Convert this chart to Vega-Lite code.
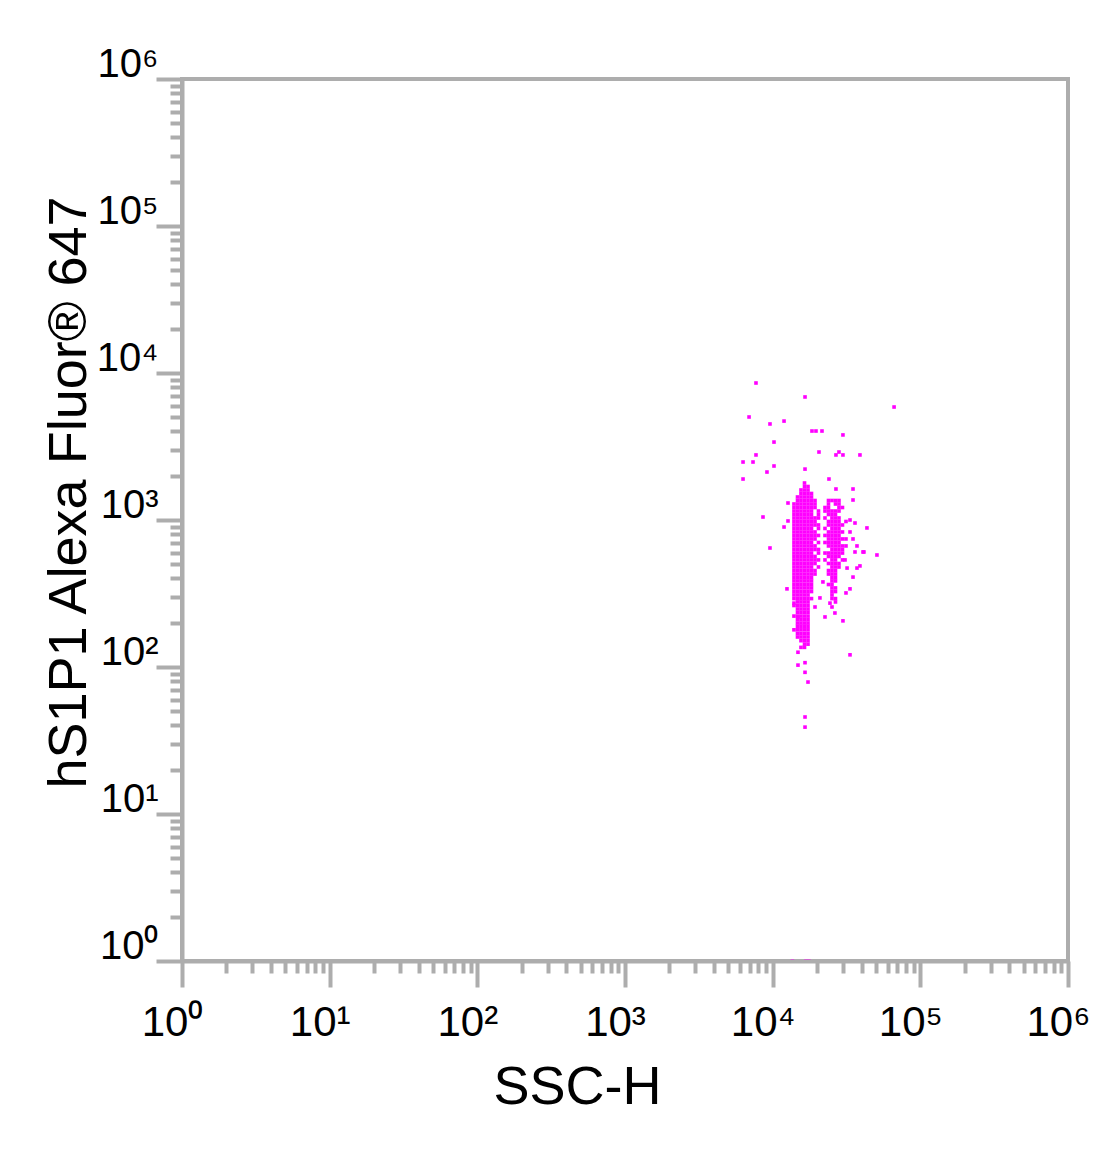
{
"$schema": "https://vega.github.io/schema/vega-lite/v6.json",
"width": 886,
"height": 882,
"autosize": {"type": "none"},
"padding": {"left": 182, "top": 79, "right": 32, "bottom": 205},
"background": "white",
"config": {"view": {"stroke": "#adadad", "strokeWidth": 4}},
"data": {"values": [
{"ssc":16430,"fl":1785},
{"ssc":16430,"fl":1690},{"ssc":17350,"fl":1690},
{"ssc":15550,"fl":1600},{"ssc":16430,"fl":1600},{"ssc":17350,"fl":1600},
{"ssc":15550,"fl":1515},{"ssc":16430,"fl":1515},{"ssc":17350,"fl":1515},{"ssc":18320,"fl":1515},
{"ssc":14730,"fl":1434},{"ssc":15550,"fl":1434},{"ssc":16430,"fl":1434},{"ssc":17350,"fl":1434},{"ssc":18320,"fl":1434},
{"ssc":14730,"fl":1357},{"ssc":15550,"fl":1357},{"ssc":16430,"fl":1357},{"ssc":17350,"fl":1357},{"ssc":18320,"fl":1357},{"ssc":19350,"fl":1357},
{"ssc":13940,"fl":1285},{"ssc":14730,"fl":1285},{"ssc":15550,"fl":1285},{"ssc":16430,"fl":1285},{"ssc":17350,"fl":1285},{"ssc":18320,"fl":1285},{"ssc":19350,"fl":1285},
{"ssc":13940,"fl":1216},{"ssc":14730,"fl":1216},{"ssc":15550,"fl":1216},{"ssc":16430,"fl":1216},{"ssc":17350,"fl":1216},{"ssc":18320,"fl":1216},{"ssc":19350,"fl":1216},
{"ssc":13940,"fl":1151},{"ssc":14730,"fl":1151},{"ssc":15550,"fl":1151},{"ssc":16430,"fl":1151},{"ssc":17350,"fl":1151},{"ssc":18320,"fl":1151},{"ssc":20430,"fl":1151},
{"ssc":13940,"fl":1090},{"ssc":14730,"fl":1090},{"ssc":15550,"fl":1090},{"ssc":16430,"fl":1090},{"ssc":17350,"fl":1090},{"ssc":18320,"fl":1090},{"ssc":20430,"fl":1090},
{"ssc":13940,"fl":1032},{"ssc":14730,"fl":1032},{"ssc":15550,"fl":1032},{"ssc":16430,"fl":1032},{"ssc":17350,"fl":1032},{"ssc":18320,"fl":1032},{"ssc":19350,"fl":1032},{"ssc":20430,"fl":1032},
{"ssc":13940,"fl":977},{"ssc":14730,"fl":977},{"ssc":15550,"fl":977},{"ssc":16430,"fl":977},{"ssc":17350,"fl":977},{"ssc":18320,"fl":977},{"ssc":19350,"fl":977},
{"ssc":13940,"fl":925},{"ssc":14730,"fl":925},{"ssc":15550,"fl":925},{"ssc":16430,"fl":925},{"ssc":17350,"fl":925},{"ssc":18320,"fl":925},{"ssc":19350,"fl":925},{"ssc":20430,"fl":925},
{"ssc":13940,"fl":876},{"ssc":14730,"fl":876},{"ssc":15550,"fl":876},{"ssc":16430,"fl":876},{"ssc":17350,"fl":876},{"ssc":18320,"fl":876},{"ssc":20430,"fl":876},
{"ssc":13940,"fl":829},{"ssc":14730,"fl":829},{"ssc":15550,"fl":829},{"ssc":16430,"fl":829},{"ssc":17350,"fl":829},{"ssc":18320,"fl":829},{"ssc":19350,"fl":829},
{"ssc":13940,"fl":785},{"ssc":14730,"fl":785},{"ssc":15550,"fl":785},{"ssc":16430,"fl":785},{"ssc":17350,"fl":785},{"ssc":18320,"fl":785},{"ssc":19350,"fl":785},{"ssc":20430,"fl":785},
{"ssc":13940,"fl":743},{"ssc":14730,"fl":743},{"ssc":15550,"fl":743},{"ssc":16430,"fl":743},{"ssc":17350,"fl":743},{"ssc":18320,"fl":743},{"ssc":19350,"fl":743},
{"ssc":13940,"fl":703},{"ssc":14730,"fl":703},{"ssc":15550,"fl":703},{"ssc":16430,"fl":703},{"ssc":17350,"fl":703},{"ssc":18320,"fl":703},{"ssc":20430,"fl":703},
{"ssc":13940,"fl":666},{"ssc":14730,"fl":666},{"ssc":15550,"fl":666},{"ssc":16430,"fl":666},{"ssc":17350,"fl":666},{"ssc":18320,"fl":666},{"ssc":19350,"fl":666},
{"ssc":13940,"fl":630},{"ssc":14730,"fl":630},{"ssc":15550,"fl":630},{"ssc":16430,"fl":630},{"ssc":17350,"fl":630},{"ssc":18320,"fl":630},{"ssc":19350,"fl":630},{"ssc":20430,"fl":630},
{"ssc":13940,"fl":596},{"ssc":14730,"fl":596},{"ssc":15550,"fl":596},{"ssc":16430,"fl":596},{"ssc":17350,"fl":596},{"ssc":18320,"fl":596},{"ssc":20430,"fl":596},
{"ssc":13940,"fl":565},{"ssc":14730,"fl":565},{"ssc":15550,"fl":565},{"ssc":16430,"fl":565},{"ssc":17350,"fl":565},{"ssc":18320,"fl":565},{"ssc":19350,"fl":565},
{"ssc":13940,"fl":535},{"ssc":14730,"fl":535},{"ssc":15550,"fl":535},{"ssc":16430,"fl":535},{"ssc":17350,"fl":535},{"ssc":18320,"fl":535},{"ssc":19350,"fl":535},{"ssc":20430,"fl":535},
{"ssc":13940,"fl":506},{"ssc":14730,"fl":506},{"ssc":15550,"fl":506},{"ssc":16430,"fl":506},{"ssc":17350,"fl":506},{"ssc":18320,"fl":506},{"ssc":19350,"fl":506},
{"ssc":13940,"fl":479},{"ssc":14730,"fl":479},{"ssc":15550,"fl":479},{"ssc":16430,"fl":479},{"ssc":17350,"fl":479},{"ssc":18320,"fl":479},{"ssc":20430,"fl":479},
{"ssc":13940,"fl":453},{"ssc":14730,"fl":453},{"ssc":15550,"fl":453},{"ssc":16430,"fl":453},{"ssc":17350,"fl":453},{"ssc":18320,"fl":453},{"ssc":19350,"fl":453},
{"ssc":13940,"fl":429},{"ssc":14730,"fl":429},{"ssc":15550,"fl":429},{"ssc":16430,"fl":429},{"ssc":17350,"fl":429},{"ssc":18320,"fl":429},{"ssc":19350,"fl":429},
{"ssc":13940,"fl":406},{"ssc":14730,"fl":406},{"ssc":15550,"fl":406},{"ssc":16430,"fl":406},{"ssc":17350,"fl":406},{"ssc":18320,"fl":406},
{"ssc":13940,"fl":385},{"ssc":14730,"fl":385},{"ssc":15550,"fl":385},{"ssc":16430,"fl":385},{"ssc":17350,"fl":385},{"ssc":18320,"fl":385},
{"ssc":13940,"fl":364},{"ssc":14730,"fl":364},{"ssc":15550,"fl":364},{"ssc":16430,"fl":364},{"ssc":17350,"fl":364},{"ssc":18320,"fl":364},
{"ssc":13940,"fl":345},{"ssc":14730,"fl":345},{"ssc":15550,"fl":345},{"ssc":16430,"fl":345},{"ssc":17350,"fl":345},{"ssc":18320,"fl":345},
{"ssc":13940,"fl":326},{"ssc":14730,"fl":326},{"ssc":15550,"fl":326},{"ssc":16430,"fl":326},{"ssc":17350,"fl":326},{"ssc":18320,"fl":326},
{"ssc":13940,"fl":309},{"ssc":14730,"fl":309},{"ssc":15550,"fl":309},{"ssc":16430,"fl":309},{"ssc":17350,"fl":309},
{"ssc":13940,"fl":292},{"ssc":14730,"fl":292},{"ssc":15550,"fl":292},{"ssc":16430,"fl":292},{"ssc":17350,"fl":292},{"ssc":18320,"fl":292},
{"ssc":14730,"fl":277},{"ssc":15550,"fl":277},{"ssc":16430,"fl":277},{"ssc":17350,"fl":277},
{"ssc":13940,"fl":262},{"ssc":14730,"fl":262},{"ssc":15550,"fl":262},{"ssc":16430,"fl":262},{"ssc":17350,"fl":262},
{"ssc":14730,"fl":248},{"ssc":15550,"fl":248},{"ssc":16430,"fl":248},{"ssc":17350,"fl":248},
{"ssc":14730,"fl":235},{"ssc":15550,"fl":235},{"ssc":16430,"fl":235},{"ssc":17350,"fl":235},
{"ssc":13940,"fl":222},{"ssc":14730,"fl":222},{"ssc":15550,"fl":222},{"ssc":16430,"fl":222},{"ssc":17350,"fl":222},
{"ssc":14730,"fl":210},{"ssc":15550,"fl":210},{"ssc":16430,"fl":210},{"ssc":17350,"fl":210},
{"ssc":14730,"fl":199},{"ssc":15550,"fl":199},{"ssc":16430,"fl":199},{"ssc":17350,"fl":199},
{"ssc":14730,"fl":189},{"ssc":15550,"fl":189},{"ssc":16430,"fl":189},{"ssc":17350,"fl":189},
{"ssc":13940,"fl":179},{"ssc":14730,"fl":179},{"ssc":15550,"fl":179},{"ssc":16430,"fl":179},{"ssc":17350,"fl":179},
{"ssc":14730,"fl":169},{"ssc":15550,"fl":169},{"ssc":16430,"fl":169},{"ssc":17350,"fl":169},
{"ssc":14730,"fl":160},{"ssc":15550,"fl":160},{"ssc":16430,"fl":160},{"ssc":17350,"fl":160},
{"ssc":15550,"fl":151},{"ssc":16430,"fl":151},{"ssc":17350,"fl":151},
{"ssc":16430,"fl":143},{"ssc":17350,"fl":143},
{"ssc":15550,"fl":136},{"ssc":16430,"fl":136},
{"ssc":23880,"fl":1357},{"ssc":25220,"fl":1357},{"ssc":26630,"fl":1357},{"ssc":28120,"fl":1357},
{"ssc":23880,"fl":1285},{"ssc":26630,"fl":1285},{"ssc":28120,"fl":1285},
{"ssc":22610,"fl":1216},{"ssc":23880,"fl":1216},{"ssc":28120,"fl":1216},{"ssc":29700,"fl":1216},
{"ssc":22610,"fl":1151},{"ssc":23880,"fl":1151},{"ssc":25220,"fl":1151},{"ssc":26630,"fl":1151},{"ssc":28120,"fl":1151},
{"ssc":23880,"fl":1090},{"ssc":25220,"fl":1090},{"ssc":26630,"fl":1090},
{"ssc":22610,"fl":1032},{"ssc":25220,"fl":1032},{"ssc":26630,"fl":1032},{"ssc":28120,"fl":1032},
{"ssc":23880,"fl":977},{"ssc":25220,"fl":977},{"ssc":26630,"fl":977},{"ssc":28120,"fl":977},{"ssc":31370,"fl":977},
{"ssc":23880,"fl":925},{"ssc":25220,"fl":925},{"ssc":26630,"fl":925},{"ssc":28120,"fl":925},{"ssc":29700,"fl":925},
{"ssc":22610,"fl":876},{"ssc":25220,"fl":876},{"ssc":26630,"fl":876},{"ssc":28120,"fl":876},
{"ssc":23880,"fl":829},{"ssc":25220,"fl":829},{"ssc":26630,"fl":829},{"ssc":28120,"fl":829},{"ssc":29700,"fl":829},
{"ssc":22610,"fl":785},{"ssc":23880,"fl":785},{"ssc":25220,"fl":785},{"ssc":26630,"fl":785},{"ssc":28120,"fl":785},
{"ssc":23880,"fl":743},{"ssc":25220,"fl":743},{"ssc":26630,"fl":743},{"ssc":28120,"fl":743},{"ssc":29700,"fl":743},{"ssc":31370,"fl":743},
{"ssc":22610,"fl":703},{"ssc":23880,"fl":703},{"ssc":25220,"fl":703},{"ssc":26630,"fl":703},{"ssc":28120,"fl":703},
{"ssc":23880,"fl":666},{"ssc":25220,"fl":666},{"ssc":26630,"fl":666},{"ssc":28120,"fl":666},{"ssc":29700,"fl":666},{"ssc":31370,"fl":666},
{"ssc":25220,"fl":630},{"ssc":26630,"fl":630},{"ssc":28120,"fl":630},{"ssc":29700,"fl":630},
{"ssc":22610,"fl":596},{"ssc":23880,"fl":596},{"ssc":25220,"fl":596},{"ssc":26630,"fl":596},{"ssc":28120,"fl":596},{"ssc":29700,"fl":596},
{"ssc":23880,"fl":565},{"ssc":25220,"fl":565},{"ssc":26630,"fl":565},{"ssc":28120,"fl":565},
{"ssc":22610,"fl":535},{"ssc":25220,"fl":535},{"ssc":26630,"fl":535},{"ssc":29700,"fl":535},
{"ssc":23880,"fl":506},{"ssc":25220,"fl":506},{"ssc":26630,"fl":506},{"ssc":28120,"fl":506},
{"ssc":25220,"fl":479},{"ssc":26630,"fl":479},{"ssc":28120,"fl":479},
{"ssc":23880,"fl":453},{"ssc":25220,"fl":453},{"ssc":26630,"fl":453},
{"ssc":23880,"fl":429},{"ssc":25220,"fl":429},{"ssc":26630,"fl":429},
{"ssc":25220,"fl":406},{"ssc":26630,"fl":406},
{"ssc":25220,"fl":385},{"ssc":26630,"fl":385},
{"ssc":23880,"fl":364},{"ssc":25220,"fl":364},
{"ssc":25220,"fl":345},{"ssc":26630,"fl":345},
{"ssc":25220,"fl":326},{"ssc":26630,"fl":326},
{"ssc":25220,"fl":309},
{"ssc":25220,"fl":292},{"ssc":26630,"fl":292},
{"ssc":26630,"fl":277},
{"ssc":7710,"fl":8550},{"ssc":16560,"fl":6870},{"ssc":66400,"fl":5870},{"ssc":6920,"fl":5020},
{"ssc":9590,"fl":4500},{"ssc":11940,"fl":4710},{"ssc":18460,"fl":4030},{"ssc":19650,"fl":4030},
{"ssc":21580,"fl":4030},{"ssc":10210,"fl":3390},{"ssc":29920,"fl":3790},{"ssc":7710,"fl":2770},
{"ssc":20590,"fl":2900},{"ssc":28120,"fl":2900},{"ssc":26830,"fl":2770},{"ssc":29920,"fl":2770},
{"ssc":39000,"fl":2770},{"ssc":6300,"fl":2480},{"ssc":7360,"fl":2480},{"ssc":10210,"fl":2330},
{"ssc":9150,"fl":2120},{"ssc":16560,"fl":2220},{"ssc":6300,"fl":1900},{"ssc":24060,"fl":1900},
{"ssc":26830,"fl":1625},{"ssc":35000,"fl":1625},{"ssc":35000,"fl":1368},{"ssc":12700,"fl":1305},
{"ssc":8600,"fl":1048},{"ssc":11940,"fl":896},{"ssc":12700,"fl":985},{"ssc":9590,"fl":645},
{"ssc":50840,"fl":578},{"ssc":40900,"fl":606},{"ssc":33400,"fl":121},{"ssc":29920,"fl":206},
{"ssc":26400,"fl":233},{"ssc":22610,"fl":219},{"ssc":19350,"fl":256},{"ssc":12500,"fl":340},
{"ssc":13940,"fl":272},{"ssc":14840,"fl":219},{"ssc":14840,"fl":126},{"ssc":14840,"fl":103},
{"ssc":16560,"fl":107},{"ssc":16560,"fl":92},{"ssc":17350,"fl":79},{"ssc":16560,"fl":45.7},
{"ssc":16560,"fl":39},{"ssc":31370,"fl":319},{"ssc":33400,"fl":340},{"ssc":35000,"fl":409},
{"ssc":37240,"fl":471},{"ssc":39000,"fl":487},{"ssc":43500,"fl":883},{"ssc":41500,"fl":606},
{"ssc":36100,"fl":954},{"ssc":33400,"fl":1000},{"ssc":36100,"fl":606},{"ssc":30900,"fl":535},
{"ssc":31900,"fl":471},{"ssc":21900,"fl":379},{"ssc":20900,"fl":295},{"ssc":24440,"fl":272},
{"ssc":25220,"fl":256},{"ssc":33400,"fl":829},{"ssc":35000,"fl":743},{"ssc":37240,"fl":666},
{"ssc":13600,"fl":1},{"ssc":16800,"fl":1},{"ssc":17600,"fl":1}
]},
"mark": {"type": "square", "color": "#ff00ff", "size": 13, "opacity": 1, "filled": true},
"encoding": {
"x": {"field": "ssc", "type": "quantitative",
 "scale": {"type": "log", "domain": [1, 1000000], "nice": false},
 "axis": {
  "values": [1,2,3,4,5,6,7,8,9,10,20,30,40,50,60,70,80,90,100,200,300,400,500,600,700,800,900,1000,2000,3000,4000,5000,6000,7000,8000,9000,10000,20000,30000,40000,50000,60000,70000,80000,90000,100000,200000,300000,400000,500000,600000,700000,800000,900000,1000000],
  "labelExpr": "pow(10, round(log(datum.value)/LN10)) == datum.value ? ['10⁰','10¹','10²','10³','10⁴','10⁵','10⁶'][round(log(datum.value)/LN10)] : ''",
  "labelFont": "Liberation Sans", "labelFontSize": 42, "labelColor": "black",
  "labelAlign": "center", "labelBaseline": "alphabetic", "labelOffset": -10, "labelPadding": 48,
  "labelOverlap": false, "labelFlush": false, "labelBound": false,
  "tickSize": {"condition": {"test": "pow(10, round(log(datum.value)/LN10)) == datum.value", "value": 26}, "value": 12},
  "tickWidth": 4, "tickColor": "#adadad", "domainColor": "#adadad", "domainWidth": 4, "grid": false, "zindex": 1,
  "title": "SSC-H", "titleFont": "Liberation Sans", "titleFontSize": 54, "titleFontWeight": "normal", "titleColor": "black",
  "titleX": 395, "titleY": 142, "titleAlign": "center", "titleBaseline": "alphabetic"
 }},
"y": {"field": "fl", "type": "quantitative",
 "scale": {"type": "log", "domain": [1, 1000000], "nice": false},
 "axis": {
  "values": [1,2,3,4,5,6,7,8,9,10,20,30,40,50,60,70,80,90,100,200,300,400,500,600,700,800,900,1000,2000,3000,4000,5000,6000,7000,8000,9000,10000,20000,30000,40000,50000,60000,70000,80000,90000,100000,200000,300000,400000,500000,600000,700000,800000,900000,1000000],
  "labelExpr": "pow(10, round(log(datum.value)/LN10)) == datum.value ? ['10⁰','10¹','10²','10³','10⁴','10⁵','10⁶'][round(log(datum.value)/LN10)] : ''",
  "labelFont": "Liberation Sans", "labelFontSize": 40, "labelColor": "black",
  "labelAlign": "right", "labelBaseline": "alphabetic", "labelOffset": -3, "labelPadding": -2,
  "labelOverlap": false, "labelFlush": false, "labelBound": false,
  "tickSize": {"condition": {"test": "pow(10, round(log(datum.value)/LN10)) == datum.value", "value": 26}, "value": 12},
  "tickWidth": 4, "tickColor": "#adadad", "domainColor": "#adadad", "domainWidth": 4, "grid": false, "zindex": 1,
  "title": "hS1P1 Alexa Fluor® 647", "titleFont": "Liberation Sans", "titleFontSize": 54, "titleFontWeight": "normal", "titleColor": "black",
  "titleAngle": -90, "titleX": -97, "titleY": 413, "titleAlign": "center", "titleBaseline": "alphabetic"
 }}
}
}
